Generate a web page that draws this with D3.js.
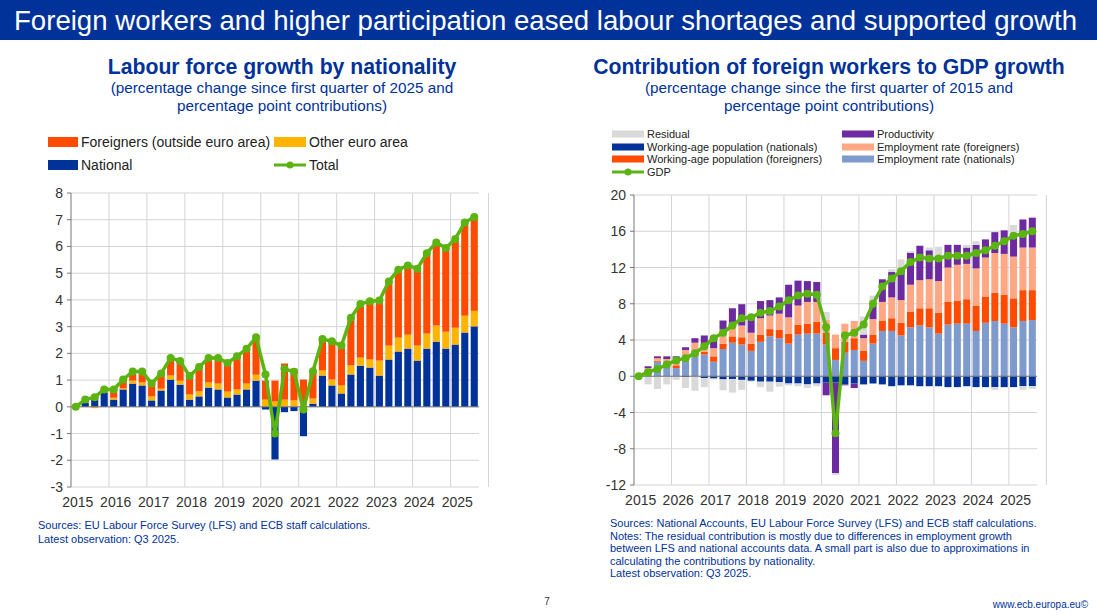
<!DOCTYPE html>
<html><head><meta charset="utf-8">
<script src="https://cdn.jsdelivr.net/npm/d3@7"></script>
<style>
body{margin:0;background:#fff;font-family:Arial,"Liberation Sans",sans-serif;}
svg text{font-family:Arial,"Liberation Sans",sans-serif;}
</style></head><body>
<svg id="c" width="1097" height="615"></svg>
<script>
"use strict";

// ---- left chart data (2015Q1 .. 2025Q3) ----
var yearLabelsL = ["2015","2016","2017","2018","2019","2020","2021","2022","2023","2024","2025"];
var national = [0,0.15,0.27,0.52,0.27,0.65,0.87,0.8,0.24,0.61,1.02,0.83,0.27,0.39,0.72,0.65,0.35,0.46,0.65,0.98,-0.1,-1.97,-0.2,-0.16,-1.1,0.12,1.17,0.8,0.5,1.21,1.54,1.47,1.17,1.77,2.07,2.18,1.73,2.18,2.44,2.18,2.33,2.78,3.01];
var otherEuro = [0,0,-0.05,0,0.07,0.04,0.11,0.11,0.15,0.07,0.15,0.15,0.19,0.19,0.19,0.22,0.22,0.19,0.22,0.22,0.27,0.2,0.27,0.24,0.12,0.19,0.19,0.22,0.3,0.34,0.3,0.3,0.56,0.52,0.52,0.52,0.56,0.56,0.6,0.63,0.63,0.63,0.58];
var foreigners = [0,0.12,0.1,0.13,0.31,0.33,0.34,0.41,0.48,0.57,0.66,0.73,0.69,0.91,0.92,0.96,1.07,1.24,1.3,1.34,0.71,0.78,1.35,1.19,0.9,1.02,1.18,1.43,1.49,1.78,2.01,2.18,2.25,2.4,2.54,2.59,2.88,3.01,3.11,3.13,3.32,3.49,3.51];
var totalL = [0,0.27,0.36,0.65,0.65,1.02,1.32,1.32,0.87,1.25,1.83,1.71,1.15,1.49,1.83,1.83,1.64,1.89,2.17,2.6,1.21,-1.0,1.42,1.31,-0.1,1.33,2.54,2.45,2.29,3.33,3.85,3.95,3.98,4.69,5.13,5.29,5.17,5.75,6.15,5.94,6.28,6.9,7.1];
var yTicksL = [-3,-2,-1,0,1,2,3,4,5,6,7,8];

// ---- right chart data (2015Q1 .. 2025Q3) ----
var yearLabelsR = ["2015","2026","2017","2018","2019","2020","2021","2022","2023","2024","2025"];
var empNat = [0,0.6,1.6,1.2,0.9,1.8,2.2,2.4,1.6,3.0,3.7,3.5,2.8,3.8,4.4,4.2,3.6,4.6,4.7,4.7,3.5,1.8,2.6,2.9,1.7,3.6,5.0,5.0,4.5,5.4,5.6,5.4,4.7,5.7,5.8,5.8,5.0,5.9,6.1,5.8,5.4,6.1,6.2];
var wapNat = [0,0,0,0,0,-0.1,0,-0.2,-0.25,-0.35,-0.3,-0.4,-0.5,-0.6,-0.6,-0.65,-0.8,-0.8,-0.9,-0.8,-0.7,-0.7,-0.9,-0.8,-0.9,-0.8,-0.9,-1.1,-1.0,-1.0,-1.1,-1.1,-1.1,-1.2,-1.2,-1.1,-1.2,-1.2,-1.2,-1.2,-1.2,-1.1,-1.1];
var wapFor = [0,0.1,0.1,0.2,0.3,0.2,0.4,0.3,0.6,0.6,0.7,0.8,0.8,0.8,0.8,0.9,1.1,1.1,1.1,1.3,1.3,1.3,1.2,1.3,1.1,1.0,1.1,1.4,1.4,1.7,1.9,2.1,2.3,2.5,2.5,2.7,2.8,2.9,3.1,3.2,3.2,3.4,3.3];
var empFor = [0,0.2,0.3,0.5,0.8,0.9,1.1,0.8,0.9,1.55,1.1,1.3,1.2,1.8,1.5,1.8,1.8,2.1,2.4,2.2,1.4,1.5,2.0,1.9,1.4,1.7,2.1,2.3,2.5,3.0,3.1,3.2,3.5,3.8,4.0,3.9,4.1,4.3,4.4,4.5,4.6,4.7,4.7];
var productivity = [0,0.2,0.2,0.3,0.2,0.3,0.5,1.0,1.3,1.0,2.0,2.35,1.65,1.9,1.7,1.8,3.6,2.75,2.3,2.2,-1.4,-10.0,-0.1,-0.5,0.4,1.5,2.5,2.8,3.3,3.5,3.8,3.2,2.8,2.5,2.2,1.8,2.6,2.0,2.3,2.6,2.3,3.1,3.3];
var residual = [0,-0.9,-1.4,-0.9,-0.4,-1.2,-1.6,-1.0,-0.1,-1.2,-1.5,-1.1,-0.1,-0.6,-1.1,-0.5,-0.2,-0.3,-0.4,-0.3,0.9,-0.2,0,0,2.0,1.1,0,0.3,1.2,0.2,0,0.3,1.0,0,0,0.3,0.4,0,-0.3,0,1.2,-0.4,-0.3];
var gdp = [0,0.45,0.8,1.3,1.75,2.0,2.55,3.3,4.2,4.8,5.6,6.4,6.5,7.0,7.2,7.7,8.4,8.9,9.1,9.0,5.4,-6.3,4.5,4.8,5.7,8.0,9.9,10.8,11.6,12.6,13.1,13.0,13.0,13.3,13.3,13.3,13.6,13.9,14.4,14.9,15.5,15.7,16.0];
var yTicksR = [-12,-8,-4,0,4,8,12,16,20];

var C = {blue:"#003299", orange:"#ff4b00", yellow:"#ffb400", green:"#5bb411",
	purple:"#6d2aa0", salmon:"#ffa883", steel:"#7f9acd", grey:"#d9d9d9", title:"#003299"};

var svg = d3.select("#c");

// header
svg.append("rect").attr("x",0).attr("y",0).attr("width",1097).attr("height",40).attr("fill",C.blue);
svg.append("text").attr("x",14).attr("y",30).attr("fill","#fff").attr("font-size",27.6)
	.text("Foreign workers and higher participation eased labour shortages and supported growth");

function titles(cx, t, sub) {
	svg.append("text").attr("x",cx).attr("y",74).attr("text-anchor","middle").attr("font-size",21.2)
		.attr("font-weight","bold").attr("fill",C.title).text(t);
	sub.forEach(function(s, i) {
		svg.append("text").attr("x",cx).attr("y",93+i*18).attr("text-anchor","middle")
			.attr("font-size",15.3).attr("fill",C.title).text(s);
	});
}

function drawChart(o) {
	var n = o.data.length;
	var x = d3.scaleBand().domain(d3.range(n)).range([o.x0, o.x1]).paddingInner(0.25).paddingOuter(0.125);
	var y = d3.scaleLinear().domain(o.yDomain).range([o.y1, o.y0]);
	var g = svg.append("g");
	// grid
	g.selectAll(".hg").data(o.yTicks).enter().append("line")
		.attr("x1",o.x0).attr("x2",o.x1).attr("y1",d=>y(d)).attr("y2",d=>y(d))
		.attr("stroke","#d4d4d4").attr("stroke-width",1);
	var yearIdx = d3.range(1, o.yearLabels.length);
	g.selectAll(".vg").data(yearIdx.concat([o.yearLabels.length])).enter().append("line")
		.attr("x1",d=>o.x0 + d*4*x.step()).attr("x2",d=>o.x0 + d*4*x.step())
		.attr("y1",o.y0).attr("y2",o.y1).attr("stroke","#d4d4d4");
	// bars
	var stack = d3.stack().keys(o.keys).offset(d3.stackOffsetDiverging)(o.data);
	stack.forEach(function(layer) {
		g.selectAll(null).data(layer).enter().append("rect")
			.attr("x",(d,i)=>x(i)).attr("width",x.bandwidth())
			.attr("y",d=>y(Math.max(d[0],d[1]))).attr("height",d=>Math.abs(y(d[0])-y(d[1])))
			.attr("fill",o.colors[layer.key]);
	});
	// axes
	g.append("line").attr("x1",o.x0).attr("x2",o.x0).attr("y1",o.y0).attr("y2",o.y1).attr("stroke","#777");
	g.append("line").attr("x1",o.x0).attr("x2",o.x1).attr("y1",y(0)).attr("y2",y(0)).attr("stroke","#777");
	g.selectAll(".yt").data(o.yTicks).enter().append("line")
		.attr("x1",o.x0-4).attr("x2",o.x0).attr("y1",d=>y(d)).attr("y2",d=>y(d)).attr("stroke","#777");
	g.selectAll(".yl").data(o.yTicks).enter().append("text")
		.attr("x",o.x0-8).attr("y",d=>y(d)+5).attr("text-anchor","end").attr("font-size",14)
		.attr("fill","#333").text(d=>d);
	g.selectAll(".xl").data(o.yearLabels).enter().append("text")
		.attr("x",(d,i)=>x(i*4)+x.bandwidth()/2+2).attr("y",o.y1+20).attr("text-anchor","middle")
		.attr("font-size",14).attr("fill","#333").text(d=>d);
	// line
	var line = d3.line().x((d,i)=>x(i)+x.bandwidth()/2).y(d=>y(d));
	g.append("path").datum(o.line).attr("d",line).attr("fill","none")
		.attr("stroke",C.green).attr("stroke-width",3.5).attr("stroke-linejoin","round");
	g.selectAll(".dot").data(o.line).enter().append("circle")
		.attr("cx",(d,i)=>x(i)+x.bandwidth()/2).attr("cy",d=>y(d)).attr("r",4).attr("fill",C.green);
}

function legendItem(lx, ly, color, label, isLine, size, sw, sh) {
	if (isLine) {
		svg.append("line").attr("x1",lx).attr("x2",lx+sw).attr("y1",ly).attr("y2",ly)
			.attr("stroke",C.green).attr("stroke-width",3);
		svg.append("circle").attr("cx",lx+sw/2).attr("cy",ly).attr("r",3.5).attr("fill",C.green);
	} else {
		svg.append("rect").attr("x",lx).attr("y",ly-sh/2).attr("width",sw).attr("height",sh).attr("fill",color);
	}
	svg.append("text").attr("x",lx+sw+3).attr("y",ly+size*0.36).attr("font-size",size).attr("fill","#222").text(label);
}

// ---- left ----
titles(282, "Labour force growth by nationality",
	["(percentage change since first quarter of 2025 and", "percentage point contributions)"]);
legendItem(48,142,C.orange,"Foreigners (outside euro area)",false,14,30,10);
legendItem(274,142,C.yellow,"Other euro area",false,14,32,10);
legendItem(48,165,C.blue,"National",false,14,30,10);
legendItem(274,165,C.green,"Total",true,14,32,10);

var dataL = national.map(function(v,i){ return {nat:v, oth:otherEuro[i], fgn:foreigners[i]}; });
drawChart({data:dataL, keys:["nat","oth","fgn"], colors:{nat:C.blue, oth:C.yellow, fgn:C.orange},
	line:totalL, x0:71, x1:479, y0:193, y1:487, yDomain:[-3,8], yTicks:yTicksL, yearLabels:yearLabelsL});

svg.append("text").attr("x",38).attr("y",529).attr("font-size",11).attr("fill",C.title)
	.text("Sources: EU Labour Force Survey (LFS) and ECB staff calculations.");
svg.append("text").attr("x",38).attr("y",543).attr("font-size",11).attr("fill",C.title)
	.text("Latest observation: Q3 2025.");

// ---- right ----
titles(829, "Contribution of foreign workers to GDP growth",
	["(percentage change since the first quarter of 2015 and", "percentage point contributions)"]);
legendItem(612,134,C.grey,"Residual",false,11,32,7);
legendItem(842,134,C.purple,"Productivity",false,11,32,7);
legendItem(612,147,C.blue,"Working-age population (nationals)",false,11,32,7);
legendItem(842,147,C.salmon,"Employment rate (foreigners)",false,11,32,7);
legendItem(612,159,C.orange,"Working-age population (foreigners)",false,11,32,7);
legendItem(842,159,C.steel,"Employment rate (nationals)",false,11,32,7);
legendItem(612,172,C.green,"GDP",true,11,32,7);

var dataR = empNat.map(function(v,i){
	return {empNat:v, wapNat:wapNat[i], wapFor:wapFor[i], empFor:empFor[i], prod:productivity[i], res:residual[i]};
});
drawChart({data:dataR, keys:["empNat","wapNat","wapFor","empFor","prod","res"],
	colors:{empNat:C.steel, wapNat:C.blue, wapFor:C.orange, empFor:C.salmon, prod:C.purple, res:C.grey},
	line:gdp, x0:634, x1:1037, y0:195, y1:485, yDomain:[-12,20], yTicks:yTicksR, yearLabels:yearLabelsR});

var notes = ["Sources: National Accounts, EU Labour Force Survey (LFS) and ECB staff calculations.",
	"Notes: The residual contribution is mostly due to differences in employment growth",
	"between LFS and national accounts data. A small part is also due to approximations in",
	"calculating the contributions by nationality.",
	"Latest observation: Q3 2025."];
notes.forEach(function(t,i){
	svg.append("text").attr("x",610).attr("y",527+i*12.5).attr("font-size",11).attr("fill",C.title).text(t);
});

svg.append("text").attr("x",547).attr("y",605).attr("text-anchor","middle").attr("font-size",10).attr("fill","#333").text("7");
svg.append("text").attr("x",1088).attr("y",608).attr("text-anchor","end").attr("font-size",10).attr("fill","#003299").text("www.ecb.europa.eu\u00a9");
</script>
</body></html>
